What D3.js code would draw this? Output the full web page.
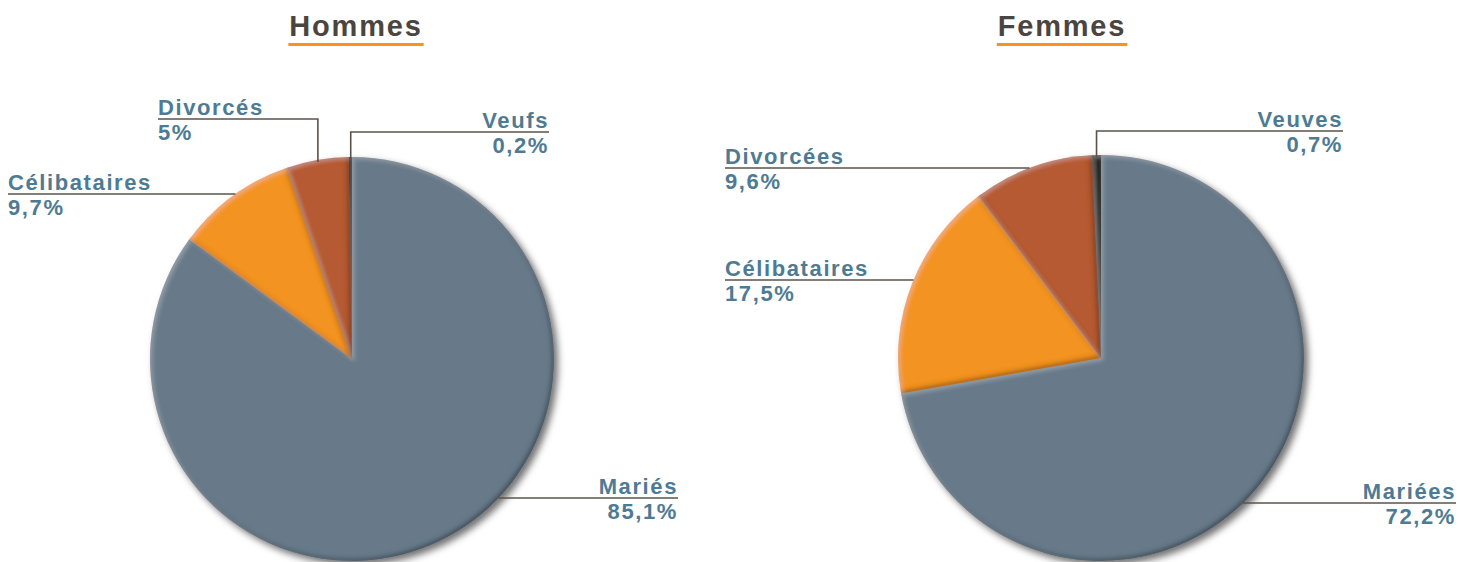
<!DOCTYPE html>
<html><head><meta charset="utf-8">
<script src="https://cdn.jsdelivr.net/npm/d3@7/dist/d3.min.js"></script>
<style>html,body{margin:0;padding:0;background:#fff;}svg{display:block;}</style>
</head><body>
<svg id="c" width="1473" height="562"></svg>
<script>
const titles = ["Hommes", "Femmes"];
const categoriesH = ["Mariés", "Célibataires", "Divorcés", "Veufs"];
const valuesH = [85.1, 9.7, 5, 0.2];
const categoriesF = ["Mariées", "Célibataires", "Divorcées", "Veuves"];
const valuesF = [72.2, 17.5, 9.6, 0.7];
const colors = ["#687a8a", "#f39322", "#b55a30", "#2b2520"];

const svg = d3.select("#c");
const defs = svg.append("defs");
const f = defs.append("filter").attr("id","bevel").attr("x","-20%").attr("y","-20%").attr("width","140%").attr("height","140%");
f.append("feFlood").attr("flood-color","#000").attr("flood-opacity",0.65);
f.append("feComposite").attr("in2","SourceAlpha").attr("operator","out").attr("result","inv");
f.append("feGaussianBlur").attr("in","inv").attr("stdDeviation",2.5).attr("result","invB");
f.append("feOffset").attr("in","invB").attr("dx",-2.5).attr("dy",-2.5).attr("result","invO");
f.append("feComposite").attr("in","invO").attr("in2","SourceAlpha").attr("operator","in").attr("result","innerDark");
f.append("feFlood").attr("flood-color","#fff").attr("flood-opacity",0.2);
f.append("feComposite").attr("in2","SourceAlpha").attr("operator","out").attr("result","inv2");
f.append("feGaussianBlur").attr("in","inv2").attr("stdDeviation",2).attr("result","inv2B");
f.append("feOffset").attr("in","inv2B").attr("dx",2).attr("dy",2).attr("result","inv2O");
f.append("feComposite").attr("in","inv2O").attr("in2","SourceAlpha").attr("operator","in").attr("result","innerLight");
const m = f.append("feMerge");
m.append("feMergeNode").attr("in","SourceGraphic");
m.append("feMergeNode").attr("in","innerDark");
m.append("feMergeNode").attr("in","innerLight");

const ds = defs.append("filter").attr("id","shadow").attr("x","-20%").attr("y","-20%").attr("width","140%").attr("height","140%");
ds.append("feDropShadow").attr("dx",4).attr("dy",4).attr("stdDeviation",3.5).attr("flood-color","#000").attr("flood-opacity",0.55);

const charts = [
  {title: titles[0], cats: categoriesH, vals: valuesH, cx: 352, cy: 359, r: 202, tx: 356,
   labels: [
     {side:"right", x: 678, y: 498},
     {side:"left", x: 8, y: 194},
     {side:"leftV", x: 158, y: 119},
     {side:"rightV", x: 549, y: 132}
   ]},
  {title: titles[1], cats: categoriesF, vals: valuesF, cx: 1101, cy: 358, r: 203, tx: 1062,
   labels: [
     {side:"right", x: 1456, y: 503},
     {side:"left", x: 725, y: 280},
     {side:"left", x: 725, y: 168},
     {side:"rightV", x: 1343, y: 131}
   ]}
];

const labelColor = "#4e7b93", lineColor = "#5b534b";
const font = "'Liberation Sans', Arial, sans-serif";

charts.forEach(ch => {
  const t = svg.append("text").attr("x", ch.tx).attr("y", 36).attr("text-anchor","middle")
    .attr("font-family", font).attr("font-weight","bold").attr("font-size", 29)
    .attr("letter-spacing", 1.8).attr("fill","#4b4540").text(ch.title);
  const bb = t.node().getBBox();
  svg.append("rect").attr("x", bb.x - 1).attr("y", 43).attr("width", bb.width + 2).attr("height", 3).attr("fill","#f7941d");

  const pie = d3.pie().sort(null).value(d => d)(ch.vals);
  const arc = d3.arc().innerRadius(0).outerRadius(ch.r);
  const g = svg.append("g").attr("transform", `translate(${ch.cx},${ch.cy})`).attr("filter","url(#shadow)");
  g.selectAll("path").data(pie).join("path")
    .attr("d", arc).attr("fill", (d,i) => colors[i]).attr("filter","url(#bevel)");

  const lg = svg.append("g");
  pie.forEach((d, i) => {
    const L = ch.labels[i];
    const mid = (d.startAngle + d.endAngle) / 2;
    let pts;
    if (L.side === "left" || L.side === "right") {
      const dy = L.y - ch.cy;
      const dx = Math.sqrt(Math.max(0, ch.r*ch.r - dy*dy));
      const ex = ch.cx + (L.side === "left" ? -dx : dx);
      pts = [[L.x, L.y], [ex, L.y]];
    } else {
      const vx = ch.cx + ch.r * Math.sin(mid);
      const vdx = vx - ch.cx;
      const vy = ch.cy - Math.sqrt(Math.max(0, ch.r*ch.r - vdx*vdx));
      pts = [[L.x, L.y], [vx, L.y], [vx, vy + 2]];
    }
    lg.append("path").attr("d", d3.line()(pts)).attr("fill","none")
      .attr("stroke", lineColor).attr("stroke-width", 1.6);
    const anchor = (L.side === "right" || L.side === "rightV") ? "end" : "start";
    const pct = String(ch.vals[i]).replace(".", ",") + "%";
    lg.append("text").attr("x", L.x).attr("y", L.y - 4).attr("text-anchor", anchor)
      .attr("font-family", font).attr("font-weight","bold").attr("font-size", 22)
      .attr("letter-spacing", 1.6).attr("fill", labelColor).text(ch.cats[i]);
    lg.append("text").attr("x", L.x).attr("y", L.y + 21).attr("text-anchor", anchor)
      .attr("font-family", font).attr("font-weight","bold").attr("font-size", 22)
      .attr("letter-spacing", 1.6).attr("fill", labelColor).text(pct);
  });
});
</script>
</body></html>
